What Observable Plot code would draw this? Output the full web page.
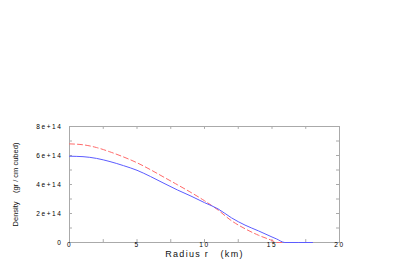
<!DOCTYPE html>
<html><head><meta charset="utf-8">
<script src="https://cdn.jsdelivr.net/npm/d3@7"></script>
<script src="https://cdn.jsdelivr.net/npm/@observablehq/plot@0.6"></script>
<style>body{margin:0;background:#fff;} svg{font-family:"Liberation Sans",Arial,sans-serif;}</style>
</head><body><div id="chart"></div>
<script>
const radius = [0,1,2,3,4,5,6,7,8,9,10,11,12,13,14,15,15.35,15.95,18];
const densityBlue = [5.95e14,5.92e14,5.80e14,5.58e14,5.30e14,4.98e14,4.55e14,4.08e14,3.62e14,3.20e14,2.75e14,2.32e14,1.70e14,1.20e14,0.80e14,0.38e14,0.24e14,0,0];
const densityRed = [6.80e14,6.74e14,6.55e14,6.25e14,5.90e14,5.50e14,5.02e14,4.50e14,3.98e14,3.45e14,2.88e14,2.24e14,1.50e14,0.95e14,0.50e14,0.14e14,0,0,0];
const xTicks = [0,5,10,15,20];
const xMinor = [0,2.5,5,7.5,10,12.5,15,17.5,20];
const yTicks = [0,2e14,4e14,6e14,8e14];
const yMinor = [0,1e14,2e14,3e14,4e14,5e14,6e14,7e14,8e14];

const blue = radius.map((r,i)=>({r, d: densityBlue[i]}));
const red = radius.map((r,i)=>({r, d: densityRed[i]}));
const fmt = d => d === 0 ? "0" : d.toExponential(0);
const tickLenY = 0.2e14, tickLenX = 0.22;

const plot = Plot.plot({
  width: 409, height: 273,
  marginLeft: 69, marginRight: 70, marginTop: 126, marginBottom: 31,
  style: {fontFamily: '"Liberation Sans",Arial,sans-serif', background: "#fff"},
  x: {domain: [0,20]},
  y: {domain: [0,8e14]},
  marks: [
    Plot.frame({stroke: "#aaa"}),
    Plot.ruleX(xMinor, {y1: 0, y2: tickLenY, stroke: "#aaa"}),
    Plot.ruleX(xMinor, {y1: 8e14, y2: 8e14 - tickLenY, stroke: "#aaa"}),
    Plot.ruleY(yMinor, {x1: 0, x2: tickLenX, stroke: "#aaa"}),
    Plot.ruleY(yMinor, {x1: 20, x2: 20 - tickLenX, stroke: "#aaa"}),
    Plot.axisX(xTicks, {tickSize: 0, tickPadding: 0, fontSize: 6.5, label: null}),
    Plot.axisY(yTicks, {tickSize: 0, tickPadding: 7, fontSize: 6.5, tickFormat: fmt, label: null}),
    Plot.line(red, {x: "r", y: "d", stroke: "#ff6a6a", strokeWidth: 1, strokeDasharray: "5,3", curve: "monotone-x"}),
    Plot.line(blue, {x: "r", y: "d", stroke: "#5c5cff", strokeWidth: 1, curve: "monotone-x"}),
    Plot.text(["Radius r   (km)"], {frameAnchor: "bottom", dy: 14, fontSize: 9, fill: "#111", text: d => d}),
    Plot.text(["Density    (gr / cm cubed)"], {frameAnchor: "left", textAnchor: "middle", dx: -54, rotate: -90, fontSize: 7.5, fill: "#111", text: d => d})
  ]
});
d3.select(plot).selectAll("text").each(function() {
  const t = this.textContent;
  if (t.startsWith("Radius")) this.setAttribute("letter-spacing", "1.3");
  else if (/^\d/.test(t)) this.setAttribute("letter-spacing", "1.6");
});
document.getElementById("chart").appendChild(plot);
</script></body></html>
